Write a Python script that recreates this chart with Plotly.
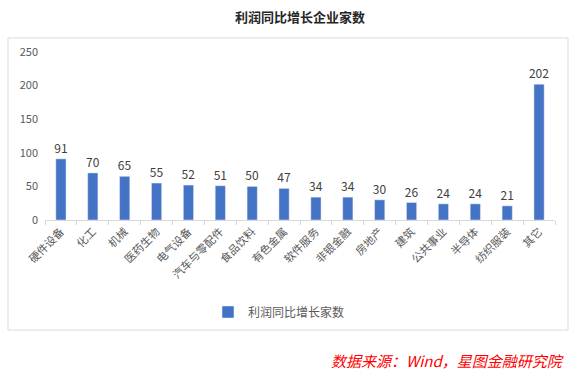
import plotly.graph_objects as go

categories = ["硬件设备", "化工", "机械", "医药生物", "电气设备", "汽车与零配件", "食品饮料", "有色金属",
              "软件服务", "非银金融", "房地产", "建筑", "公共事业", "半导体", "纺织服装", "其它"]
values = [91, 70, 65, 55, 52, 51, 50, 47, 34, 34, 30, 26, 24, 24, 21, 202]
series_name = "利润同比增长家数"
title_text = "利润同比增长企业家数"
source_text = "数据来源：Wind，星图金融研究院"

W, H = 577, 373
ml, mr, mt, mb = 45, 22, 52, 153
pw, ph = W - ml - mr, H - mt - mb

def px_x(x):
    return (x - ml) / pw

def px_y(y):
    return (H - mb - y) / ph

FONT = "Microsoft YaHei, Noto Sans CJK SC, sans-serif"

fig = go.Figure()
fig.add_trace(go.Bar(
    x=categories, y=values, name=series_name,
    marker_color="#4472C4",
    text=values, textposition="outside", cliponaxis=False, constraintext="none",
    textfont=dict(size=12, color="#404040", family=FONT),
))

fig.update_layout(
    width=W, height=H,
    margin=dict(l=ml, r=mr, t=mt, b=mb),
    paper_bgcolor="white", plot_bgcolor="white",
    bargap=0.68,
    showlegend=True,
    title=dict(text="<b>" + title_text + "</b>", x=0.5, xref="paper", xanchor="center",
               y=1 - 17 / H, yref="container", yanchor="middle",
               font=dict(size=13, color="#262626", family=FONT)),
    legend=dict(orientation="h", x=px_x(279), xanchor="center", y=px_y(312), yanchor="middle",
                font=dict(size=12, color="#595959", family=FONT), bgcolor="rgba(0,0,0,0)"),
    xaxis=dict(type="category", tickangle=-45, tickson="boundaries", ticks="outside", ticklen=4,
               tickcolor="#d9d9d9", showline=True, linecolor="#d9d9d9", linewidth=1,
               tickfont=dict(size=11, color="#595959", family=FONT), showgrid=False),
    yaxis=dict(range=[0, 250], dtick=50, showgrid=False, zeroline=False, showline=False,
               tickfont=dict(size=11, color="#595959", family=FONT), ticks="", ticklabelstandoff=6),
    shapes=[dict(type="rect", xref="paper", yref="paper",
                 x0=px_x(8), x1=px_x(568), y0=px_y(330), y1=px_y(38),
                 line=dict(color="#d9d9d9", width=1), layer="below")],
    annotations=[dict(text="<i>" + source_text + "</i>", xref="paper", yref="paper",
                      x=px_x(566), y=px_y(360), xanchor="right", yanchor="middle", showarrow=False,
                      font=dict(size=15, color="#FF0000", family=FONT))],
)

fig.write_html("out.html", config={"displayModeBar": False},
               post_script="document.body.style.margin='0';document.body.style.padding='0';")
